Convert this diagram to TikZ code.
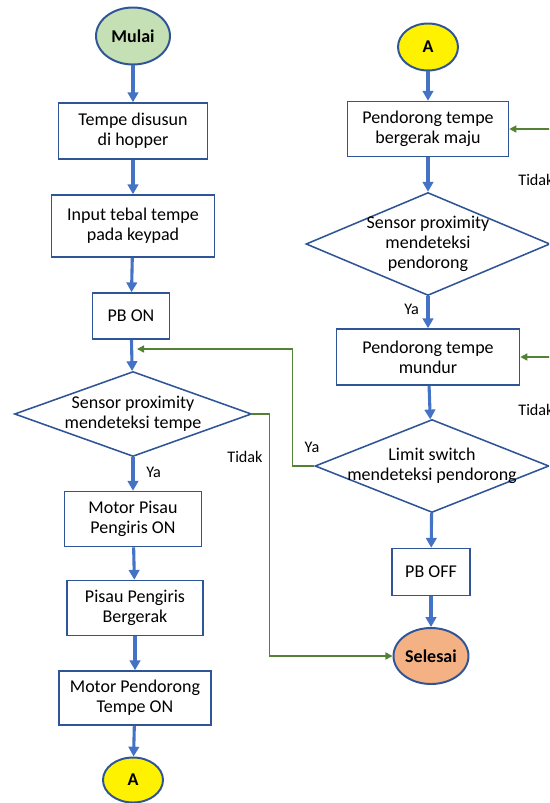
\documentclass[tikz,border=0pt]{standalone}
\usepackage{fontspec}
\setmainfont{Carlito}
\usetikzlibrary{shapes.geometric, arrows.meta, calc}

\definecolor{edgeblue}{HTML}{2F5597}
\definecolor{arrowblue}{HTML}{4472C4}
\definecolor{loopgreen}{HTML}{548235}
\definecolor{startgreen}{HTML}{C5E0B4}
\definecolor{endorange}{HTML}{F4B183}

\begin{document}
\begin{tikzpicture}
                [x=0.025cm, y=-0.025cm,
                font=\fontsize{12.8}{14.2}\selectfont,
                dims/.style 2 args={
                    minimum width=#1*0.025cm,
                    minimum height=#2*0.025cm
                },
                block/.style={
                    rectangle,
                    draw=edgeblue,
                    line width=1.1pt,
                    fill=white,
                    align=center,
                    inner sep=1pt
                },
                decision/.style={
                    diamond,
                    draw=edgeblue,
                    line width=1.1pt,
                    fill=white,
                    align=center,
                    inner xsep=-6pt,
                    inner ysep=-3pt
                },
                terminal/.style={
                    ellipse,
                    draw=edgeblue,
                    line width=1.4pt,
                    inner sep=0pt,
                    font=\fontsize{12.8}{14.2}\selectfont\bfseries
                },
                line/.style={
                    draw=arrowblue, line width=2.2pt, -{Triangle[length=7pt,width=7.5pt]}
                },
                feedback/.style={
                    draw=loopgreen, line width=1pt, -{Triangle[length=5pt,width=5pt]}
                },
                answer/.style={font=\fontsize{11.5}{13}\selectfont}
                ]

                % Page frame (the right edge cuts the loops)
                \useasboundingbox (0,0) rectangle (549,803);
                \clip (0,0) rectangle (549,803);

                % Left column
                \node[terminal, fill=startgreen, dims={74}{57}] (mulai) at (133,36) {Mulai};
                \node[block, dims={149}{56}] (hopper) at (133,131) {Tempe disusun\\di hopper};
                \node[block, dims={163}{62}] (keypad) at (133,226) {Input tebal tempe\\pada keypad};
                \node[block, dims={77}{46}] (pbon) at (131,316) {PB ON};
                \node[decision, aspect=2.79, dims={237}{85}] (sensetempe) at (133,414) {Sensor proximity\\mendeteksi tempe};
                \node[block, dims={137}{55}] (pisauon) at (133,519) {Motor Pisau\\Pengiris ON};
                \node[block, dims={136}{55}] (pisaugerak) at (135,608) {Pisau Pengiris\\Bergerak};
                \node[block, dims={152}{54}] (dorongon) at (135,698) {Motor Pendorong\\Tempe ON};
                \node[terminal, fill=yellow, dims={60}{45}] (abot) at (133,780) {A};

                % Right column
                \node[terminal, fill=yellow, dims={60}{47}] (atop) at (428,47) {A};
                \node[block, dims={161}{55}] (maju) at (428,129) {Pendorong tempe\\bergerak maju};
                \node[decision, aspect=2.37, dims={244}{103}] (sensedorong) at (428,244) {Sensor proximity\\mendeteksi\\pendorong};
                \node[block, dims={183}{56}] (mundur) at (428,357) {Pendorong tempe\\mundur};
                \node[decision, aspect=2.52, dims={234}{93}] (limit) at (432,466) {Limit switch\\mendeteksi pendorong};
                \node[block, dims={78}{47}] (pboff) at (431,572) {PB OFF};
                \node[terminal, fill=endorange, dims={75}{56}] (selesai) at (431,656) {Selesai};

                % Main flow
                \foreach \from/\to in {mulai/hopper, hopper/keypad, keypad/pbon, pbon/sensetempe,
                    pisauon/pisaugerak, pisaugerak/dorongon, dorongon/abot,
                    atop/maju, maju/sensedorong, mundur/limit, limit/pboff, pboff/selesai}{
                    \path [line] (\from) -- (\to);
                }
                \path [line] (sensetempe) -- node[answer, right=5pt, pos=0.45] {Ya} (pisauon);
                \path [line] (sensedorong) -- node[answer, left=2pt, pos=0.4] {Ya} (mundur);

                % Loops back
                \coordinate (join) at (137,349);
                \path [feedback] (limit.west) -- node[answer, above=6pt, pos=0.1] {Ya} ++(-22,0) |- (join);
                \path [feedback] (sensetempe.east) -- ++(17,0) |- (selesai.west);
                \path [feedback] (sensedorong.east) -- ++(22,0) |- (maju.east);
                \path [feedback] (limit.east) -- ++(22,0) |- (mundur.east);

                % No-branch labels
                \node[answer] (tidakleft) at (245,457) {Tidak};
                \node[answer] (tidakmaju) at (536,180) {Tidak};
                \node[answer] (tidakmundur) at (536,410) {Tidak};
            \end{tikzpicture}
\end{document}
